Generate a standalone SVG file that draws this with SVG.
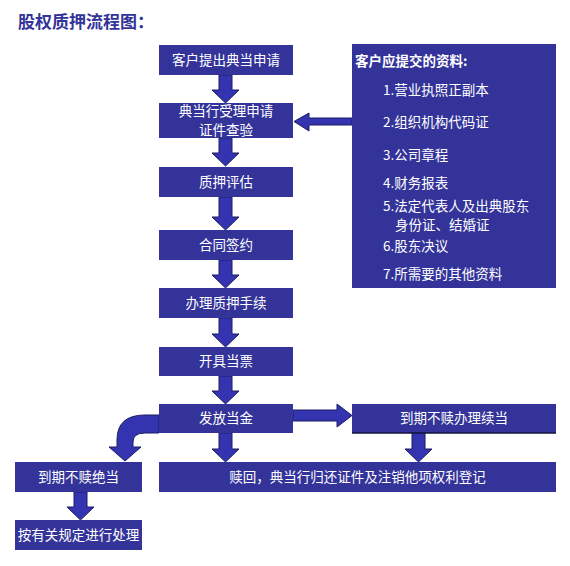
<svg xmlns="http://www.w3.org/2000/svg" width="570" height="566" viewBox="0 0 570 566">
<style>
.box{fill:#333399;}
.t{fill:#ffffff;font-family:"Noto Sans CJK SC","Noto Sans",sans-serif;font-size:13.5px;text-anchor:middle;}
.it{fill:#ffffff;font-family:"Noto Sans CJK SC","Noto Sans",sans-serif;font-size:13.5px;}
.arr{fill:#3434b0;stroke:#1c1c66;stroke-width:1;}
</style>
<rect width="570" height="566" fill="#ffffff"/>
<text x="18" y="28" font-family="'Noto Sans CJK SC',sans-serif" font-size="17" font-weight="bold" fill="#333399">股权质押流程图：</text>

<g id="connectors">
  <path class="arr" d="M219,75 L232,75 L232,90 L239,90 L225.5,103 L212,90 L219,90 Z"/>
  <path class="arr" d="M219,138 L232,138 L232,153 L239,153 L225.5,166 L212,153 L219,153 Z"/>
  <path class="arr" d="M219,197 L232,197 L232,217 L239,217 L225.5,230 L212,217 L219,217 Z"/>
  <path class="arr" d="M219,260 L232,260 L232,275 L239,275 L225.5,288 L212,275 L219,275 Z"/>
  <path class="arr" d="M219,318 L232,318 L232,334 L239,334 L225.5,347 L212,334 L219,334 Z"/>
  <path class="arr" d="M219,376 L232,376 L232,391 L239,391 L225.5,404 L212,391 L219,391 Z"/>
  <path class="arr" d="M219,433 L232,433 L232,449 L239,449 L225.5,462 L212,449 L219,449 Z"/>
  <path class="arr" d="M412,433 L425,433 L425,449 L432,449 L418.5,462 L405,449 L412,449 Z"/>
  <path class="arr" d="M74,492 L87,492 L87,507 L94,507 L80.5,520 L67,507 L74,507 Z"/>
  <path class="arr" d="M293,410 L337,410 L337,404 L352,415.5 L337,427 L337,421 L293,421 Z"/>
  <path class="arr" d="M352,118 L309,118 L309,113 L294,121.5 L309,131 L309,125 L352,125 Z"/>
  <path class="arr" d="M159,415 L145,415 Q117,415 117,440 L117,447 L109,447 L125,461 L141,447 L133,447 L133,442 Q133,433 145,433 L159,433 Z"/>
</g>

<g id="n1"><rect class="box" x="159" y="45" width="134" height="30"/><text class="t" x="226" y="65">客户提出典当申请</text></g>
<g id="n2"><rect class="box" x="159" y="103" width="134" height="35"/><text class="t" x="226" y="116">典当行受理申请</text><text class="t" x="226" y="135">证件查验</text></g>
<g id="n3"><rect class="box" x="159" y="167" width="134" height="30"/><text class="t" x="226" y="187">质押评估</text></g>
<g id="n4"><rect class="box" x="159" y="230" width="134" height="30"/><text class="t" x="226" y="250">合同签约</text></g>
<g id="n5"><rect class="box" x="159" y="288" width="134" height="30"/><text class="t" x="226" y="308">办理质押手续</text></g>
<g id="n6"><rect class="box" x="159" y="347" width="134" height="29"/><text class="t" x="226" y="366">开具当票</text></g>
<g id="n7"><rect class="box" x="159" y="404" width="134" height="29"/><text class="t" x="226" y="423">发放当金</text></g>
<g id="n8"><rect class="box" x="352" y="404" width="204" height="29"/><line x1="352" y1="433" x2="556" y2="433" stroke="#14143c" stroke-width="1.5"/><text class="t" x="454" y="423">到期不赎办理续当</text></g>
<g id="n9"><rect class="box" x="159" y="462" width="397" height="30"/><text class="t" x="357.5" y="482">赎回，典当行归还证件及注销他项权利登记</text></g>
<g id="n10"><rect class="box" x="15" y="462" width="127" height="30"/><text class="t" x="78.5" y="482">到期不赎绝当</text></g>
<g id="n11"><rect class="box" x="15" y="520" width="127" height="30"/><text class="t" x="78.5" y="540">按有关规定进行处理</text></g>

<g id="info">
  <rect class="box" x="352" y="44" width="204" height="244"/>
  <text class="it" x="355" y="66" font-weight="bold">客户应提交的资料:</text>
  <text class="it" x="383" y="95">1.营业执照正副本</text>
  <text class="it" x="383" y="127">2.组织机构代码证</text>
  <text class="it" x="383" y="160">3.公司章程</text>
  <text class="it" x="383" y="188">4.财务报表</text>
  <text class="it" x="383" y="211">5.法定代表人及出典股东</text>
  <text class="it" x="395" y="230">身份证、结婚证</text>
  <text class="it" x="383" y="251">6.股东决议</text>
  <text class="it" x="383" y="279">7.所需要的其他资料</text>
</g>
</svg>
